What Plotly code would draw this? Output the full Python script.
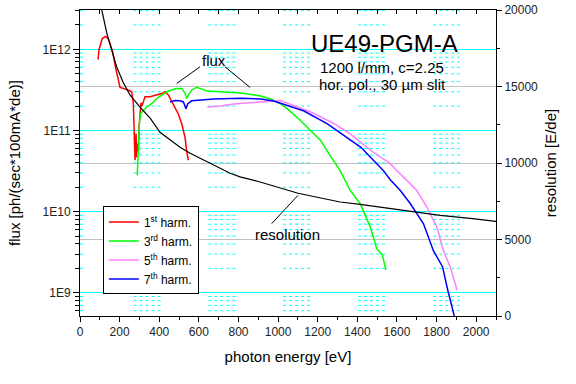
import plotly.graph_objects as go

# ---------------- data ----------------
energy_1st = [91, 96, 113, 130, 145, 164, 180, 195, 202, 236, 261, 269, 278, 283, 286, 289, 295,
              298, 303, 308, 313, 320, 328, 354, 387, 413, 429, 446, 471, 496, 514, 530, 539, 547]
flux_1st = [7.5e11, 9.9e11, 1.37e12, 1.44e12, 1.32e12, 9.5e11, 5.9e11, 4.1e11, 3.4e11, 3.2e11,
            3.0e11, 2.2e11, 4.3e10, 9.1e10, 4.7e10, 6.9e10, 5.5e10, 1.1e11, 1.5e11, 2.2e11,
            2.0e11, 2.3e11, 2.6e11, 2.6e11, 2.75e11, 2.85e11, 3.0e11, 2.75e11, 2.1e11, 1.6e11,
            1.2e11, 8.3e10, 5.5e10, 4.3e10]

energy_3rd = [289, 295, 300, 306, 320, 337, 362, 387, 413, 438, 463, 488, 514, 530, 539, 547, 564,
              589, 643, 726, 812, 913, 963, 1014, 1047, 1114, 1165, 1216, 1256, 1313, 1364, 1414,
              1465, 1498, 1527, 1544]
flux_3rd = [2.8e10, 6.3e10, 1.23e11, 1.62e11, 1.78e11, 1.95e11, 2.14e11, 2.48e11, 2.73e11, 3.0e11,
            3.16e11, 3.3e11, 3.3e11, 2.86e11, 2.48e11, 2.73e11, 3.16e11, 3.4e11, 3.06e11, 2.98e11,
            2.89e11, 2.66e11, 2.44e11, 2.12e11, 1.85e11, 1.32e11, 9.9e10, 7.5e10, 5.2e10, 3.2e10,
            1.83e10, 1.26e10, 6.5e9, 3.5e9, 2.9e9, 1.9e9]

energy_5th = [643, 711, 776, 877, 1010, 1162, 1279, 1364, 1465, 1566, 1599, 1650, 1700, 1751, 1801,
              1835, 1869, 1894, 1903]
flux_5th = [1.95e11, 2.0e11, 2.12e11, 2.2e11, 2.34e11, 1.7e11, 1.23e11, 9.1e10, 5.75e10, 3.9e10,
            3.2e10, 2.43e10, 1.83e10, 1.14e10, 6.5e9, 3.3e9, 2.07e9, 1.3e9, 1.07e9]

energy_7th = [455, 480, 505, 522, 535, 544, 564, 606, 675, 812, 913, 978, 1131, 1249, 1350, 1418,
              1498, 1532, 1566, 1616, 1667, 1700, 1734, 1784, 1830, 1856, 1887, 1893]
flux_7th = [2.24e11, 2.34e11, 2.32e11, 2.25e11, 1.86e11, 2.14e11, 2.32e11, 2.37e11, 2.44e11, 2.5e11,
            2.44e11, 2.31e11, 1.74e11, 1.21e11, 8.2e10, 6.2e10, 3.9e10, 3.2e10, 2.47e10, 1.83e10,
            1.26e10, 9.4e9, 7.1e9, 3.3e9, 2.1e9, 1.09e9, 5.7e8, 4.8e8]

res_energy = [110, 135, 160, 185, 217, 253, 303, 354, 404, 455, 505, 556, 606, 657, 707, 758, 808,
              909, 1101, 1313, 1414, 1566, 1682, 1818, 1970, 2086, 2100]
resolution = [20000, 18500, 17380, 16290, 15290, 14430, 13650, 12930, 12010, 11490, 11030, 10640,
              10310, 9980, 9660, 9330, 9090, 8760, 8020, 7450, 7300, 7040, 6800, 6580, 6380, 6210,
              6190]

series_names = ["1<sup>st</sup> harm.", "3<sup>rd</sup> harm.", "5<sup>th</sup> harm.", "7<sup>th</sup> harm."]
series_colors = ["#ff0000", "#00ff00", "#ff80ff", "#0000ff"]

decade_ticks = [1e9, 1e10, 1e11, 1e12]
decade_labels = ["1E9", "1E10", "1E11", "1E12"]

# ---------------- layout constants ----------------
X_RANGE = [0, 2100]
LOGY_RANGE = [8.714, 12.485]
RES_RANGE = [0, 20000]
minor_ticks = [m * 10 ** d for d in range(8, 13) for m in range(2, 10)
               if 5.18e8 <= m * 10 ** d <= 3.05e12]
grid_bands = [(0, 25), (270, 410), (648, 788), (1025, 1165), (1404, 1540), (1783, 1918)]

FONT = "Liberation Sans, Arial, sans-serif"
TITLE_FONT = dict(family=FONT, size=15, color="black")

fig = go.Figure()

# dotted minor grid segments (Origin-style banded dotted grid)
gx, gy = [], []
for v in minor_ticks:
    for a, b in grid_bands:
        gx += [a, b, None]
        gy += [v, v, None]
fig.add_trace(go.Scatter(x=gx, y=gy, mode="lines", line=dict(color="#00ffff", width=1, dash="dot"),
                         showlegend=False, hoverinfo="skip", xaxis="x", yaxis="y"))

for ex, fl, nm, col in zip([energy_1st, energy_3rd, energy_5th, energy_7th],
                           [flux_1st, flux_3rd, flux_5th, flux_7th],
                           series_names, series_colors):
    fig.add_trace(go.Scatter(x=ex, y=fl, name=nm, mode="lines",
                             line=dict(color=col, width=1.5), xaxis="x", yaxis="y"))

fig.add_trace(go.Scatter(x=res_energy, y=resolution, mode="lines", showlegend=False,
                         line=dict(color="black", width=1.2), xaxis="x", yaxis="y2"))

# helper traces so the extra axes are rendered
fig.add_trace(go.Scatter(x=[None], y=[None], showlegend=False, hoverinfo="skip", xaxis="x2", yaxis="y"))
fig.add_trace(go.Scatter(x=[None], y=[None], showlegend=False, hoverinfo="skip", xaxis="x", yaxis="y3"))

fig.update_layout(
    width=576, height=384,
    margin=dict(l=80, r=80, t=10, b=68, pad=0, autoexpand=False),
    paper_bgcolor="white", plot_bgcolor="white",
    font=dict(family=FONT, size=12, color="#222"),
    showlegend=True,
    legend=dict(x=0.055, y=0.358, xanchor="left", yanchor="top", bgcolor="white",
                bordercolor="black", borderwidth=1, font=dict(family=FONT, size=12, color="black"),
                itemwidth=30, tracegroupgap=0),
    xaxis=dict(range=X_RANGE, tick0=0, dtick=200, ticks="outside", ticklen=5, tickcolor="black",
               showline=True, linecolor="black", linewidth=1, showgrid=False, zeroline=False,
               automargin=False,
               title=dict(text="photon energy [eV]", font=TITLE_FONT, standoff=13),
               minor=dict(dtick=100, ticks="outside", ticklen=3, tickcolor="black", showgrid=False)),
    xaxis2=dict(range=X_RANGE, overlaying="x", side="top", anchor="y", tick0=0, dtick=100,
                ticks="inside", ticklen=4, tickcolor="black", showticklabels=False, showline=True,
                linecolor="black", showgrid=False, zeroline=False, automargin=False),
    yaxis=dict(type="log", range=LOGY_RANGE, tickmode="array", tickvals=decade_ticks,
               ticktext=decade_labels, ticks="outside", ticklen=6, tickcolor="black",
               showline=True, linecolor="black", showgrid=True, gridcolor="#00ffff", gridwidth=1,
               zeroline=False, automargin=False,
               title=dict(text="flux [ph/(sec*100mA*de)]", font=TITLE_FONT, standoff=18)),
    yaxis2=dict(range=RES_RANGE, overlaying="y", side="right", anchor="x", tick0=0, dtick=5000,
                tickformat="d", ticks="outside", ticklen=5, tickcolor="black", showline=True,
                linecolor="black", showgrid=True, gridcolor="#c0c0c0", gridwidth=1, zeroline=False,
                automargin=False,
                title=dict(text="resolution [E/de]", font=TITLE_FONT, standoff=8),
                minor=dict(dtick=2500, ticks="outside", ticklen=3, tickcolor="black", showgrid=False)),
    yaxis3=dict(type="log", range=LOGY_RANGE, overlaying="y", side="left", anchor="x",
                tickmode="array", tickvals=minor_ticks, ticks="outside", ticklen=4,
                tickcolor="black", showticklabels=False, showgrid=False, showline=False,
                zeroline=False, automargin=False),
)

annos = [
    dict(text="UE49-PGM-A", x=0.731, y=0.892, size=24),
    dict(text="1200 l/mm, c=2.25", x=0.726, y=0.813, size=15),
    dict(text="hor. pol., 30 µm slit", x=0.726, y=0.758, size=15),
    dict(text="flux", x=0.322, y=0.836, size=15),
    dict(text="resolution", x=0.498, y=0.267, size=15),
]
for a in annos:
    fig.add_annotation(text=a["text"], x=a["x"], y=a["y"], xref="paper", yref="paper",
                       xanchor="center", yanchor="middle", showarrow=False,
                       font=dict(family=FONT, size=a["size"], color="black"))

pointer_lines = [
    (0.2325, 0.760, 0.2885, 0.8144),
    (0.3486, 0.8144, 0.4087, 0.747),
    (0.4608, 0.3018, 0.524, 0.3944),
]
for x0, y0, x1, y1 in pointer_lines:
    fig.add_shape(type="line", xref="paper", yref="paper", x0=x0, y0=y0, x1=x1, y1=y1,
                  line=dict(color="black", width=1))

fig.write_html("out.html", config={"displayModeBar": False},
               post_script="document.body.style.margin='0px';document.body.style.padding='0px';")
